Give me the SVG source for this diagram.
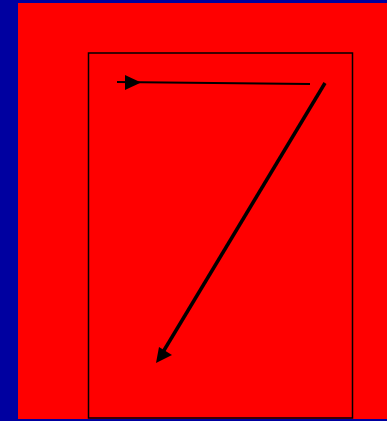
<svg xmlns="http://www.w3.org/2000/svg" width="387" height="421" viewBox="0 0 387 421">
<style>
.bg{fill:#0000a0}
.panel{fill:#ff0000}
.frame{fill:none;stroke:#000;stroke-width:1.5}
.conn{fill:none;stroke:#000}
</style>
<defs>
<marker id="ah" viewBox="0 0 10 10" refX="0" refY="5" markerWidth="10" markerHeight="10" markerUnits="userSpaceOnUse" orient="auto">
<path d="M0,0 L10,5 L0,10 Z" fill="#000"/>
</marker>
<marker id="ah2" viewBox="0 0 10 10" refX="10" refY="5" markerWidth="18" markerHeight="18" markerUnits="userSpaceOnUse" orient="auto">
<path d="M0,0 L10,5 L0,10 Z" fill="#000"/>
</marker>
</defs>
<rect class="bg" x="0" y="0" width="387" height="421"/>
<rect class="panel" x="18" y="3" width="369" height="416"/>
<g id="frame"><rect class="frame" x="88.5" y="53" width="264" height="365"/></g>
<g id="connectors">
<line class="conn" x1="117" y1="82" x2="310" y2="84" stroke-width="2"/>
<path d="M125,75 L141,82.5 L125,90 Z" fill="#000"/>
<line class="conn" x1="325" y1="83" x2="160" y2="357" stroke-width="3.5"/>
<path d="M156,363 L159,347 L172,355 Z" fill="#000"/>
</g>
</svg>
